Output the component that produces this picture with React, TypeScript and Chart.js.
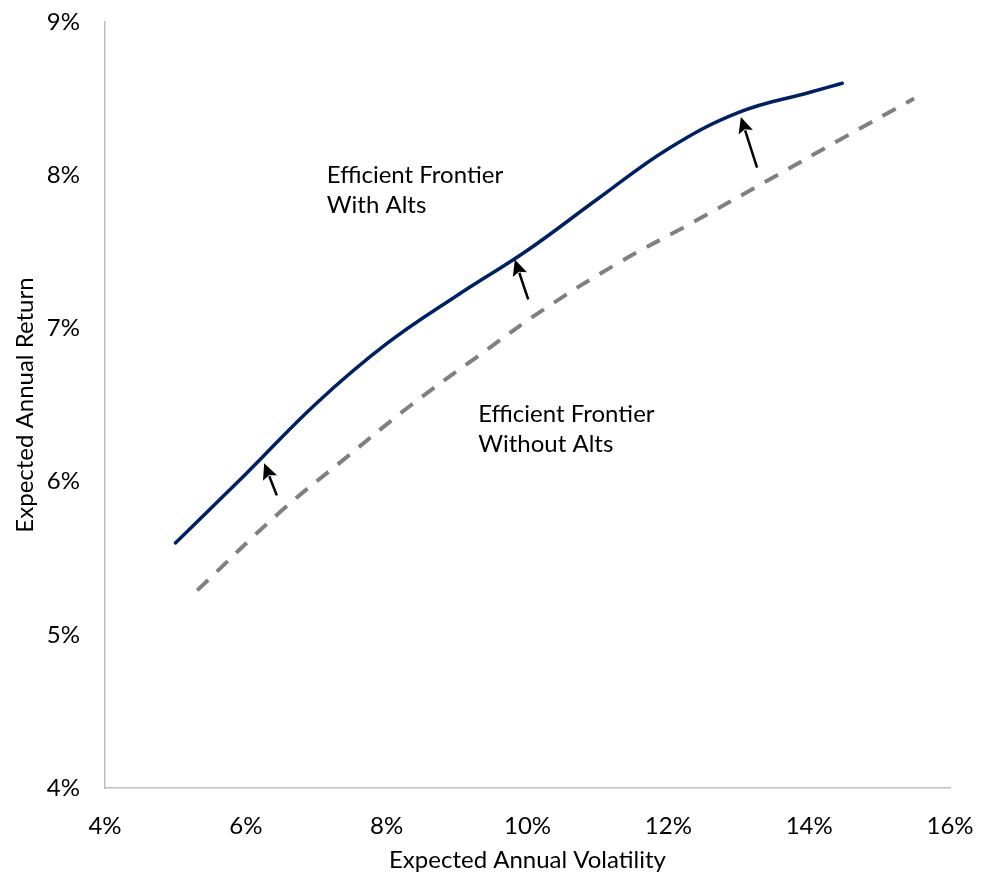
import React, { useEffect, useRef } from "react";
import { Chart, registerables } from "chart.js";
Chart.register(...registerables);

// Efficient frontier with alternatives (volatility %, return %)
const withAltsVol = [5.0, 6.0, 7.0, 8.0, 9.0, 10.0, 11.0, 12.0, 13.0, 14.0, 14.47];
const withAltsRet = [5.6, 6.05, 6.51, 6.9, 7.215, 7.51, 7.846, 8.173, 8.41, 8.54, 8.6];

// Efficient frontier without alternatives
const withoutAltsVol = [5.31, 6.47, 7.38, 8.32, 9.27, 10.25, 11.3, 12.34, 13.39, 14.43, 15.49];
const withoutAltsRet = [5.29, 5.795, 6.14, 6.49, 6.81, 7.13, 7.43, 7.69, 7.96, 8.23, 8.5];

// Arrows (from -> to)
const arrowFromVol = [6.44, 10.01, 13.26];
const arrowFromRet = [5.91, 7.19, 8.05];
const arrowToVol = [6.26, 9.82, 13.03];
const arrowToRet = [6.12, 7.45, 8.38];

// Text labels: anchor of first line baseline (left aligned)
const labelVol = [7.15, 9.3];
const labelRet = [7.95, 6.39];
const labelLines = [
  ["Efficient Frontier", "With Alts"],
  ["Efficient Frontier", "Without Alts"],
];

const xTicks = [4, 6, 8, 10, 12, 14, 16];
const yTicks = [4, 5, 6, 7, 8, 9];
const xTitle = "Expected Annual Volatility";
const yTitle = "Expected Annual Return";

const FONT = "Lato, 'Open Sans', sans-serif";
const FS = 24;

export default function App() {
  const ref = useRef<HTMLCanvasElement>(null);
  useEffect(() => {
    const canvas = ref.current!;
    const annotPlugin = {
      id: "annot",
      afterDatasetsDraw(chart: any) {
        const { ctx } = chart;
        const x = chart.scales.x;
        const y = chart.scales.y;
        ctx.save();
        for (let i = 0; i < arrowFromVol.length; i++) {
          const x0 = x.getPixelForValue(arrowFromVol[i]);
          const y0 = y.getPixelForValue(arrowFromRet[i]);
          const x1 = x.getPixelForValue(arrowToVol[i]);
          const y1 = y.getPixelForValue(arrowToRet[i]);
          const ang = Math.atan2(y1 - y0, x1 - x0);
          const headLen = 16;
          const headW = 7.5;
          const bx = x1 - headLen * Math.cos(ang);
          const by = y1 - headLen * Math.sin(ang);
          ctx.strokeStyle = "#000";
          ctx.lineWidth = 2.5;
          ctx.beginPath();
          ctx.moveTo(x0, y0);
          ctx.lineTo(bx + 2 * Math.cos(ang), by + 2 * Math.sin(ang));
          ctx.stroke();
          ctx.fillStyle = "#000";
          ctx.beginPath();
          ctx.moveTo(x1, y1);
          ctx.lineTo(bx + headW * Math.sin(ang), by - headW * Math.cos(ang));
          ctx.lineTo(bx + 3 * Math.cos(ang), by + 3 * Math.sin(ang));
          ctx.lineTo(bx - headW * Math.sin(ang), by + headW * Math.cos(ang));
          ctx.closePath();
          ctx.fill();
        }
        ctx.font = `${FS}px ${FONT}`;
        ctx.fillStyle = "#000";
        ctx.textAlign = "left";
        ctx.textBaseline = "alphabetic";
        for (let i = 0; i < labelLines.length; i++) {
          const px = x.getPixelForValue(labelVol[i]);
          const py = y.getPixelForValue(labelRet[i]);
          labelLines[i].forEach((t, j) => ctx.fillText(t, px, py + j * 30));
        }
        ctx.restore();
      },
    };

    const chart = new Chart(canvas, {
      type: "line",
      data: {
        datasets: [
          {
            label: "With Alts",
            data: withAltsVol.map((v, i) => ({ x: v, y: withAltsRet[i] })),
            borderColor: "#002060",
            borderWidth: 3.5,
            pointRadius: 0,
            tension: 0.4,
            borderCapStyle: "round",
            fill: false,
          },
          {
            label: "Without Alts",
            data: withoutAltsVol.map((v, i) => ({ x: v, y: withoutAltsRet[i] })),
            borderColor: "#808080",
            borderWidth: 4,
            borderDash: [15, 12],
            pointRadius: 0,
            tension: 0.4,
            fill: false,
          },
        ],
      },
      options: {
        animation: false,
        responsive: false,
        maintainAspectRatio: false,
        layout: { padding: { left: 0, top: 22, right: 32, bottom: 0 } },
        plugins: { legend: { display: false }, tooltip: { enabled: false } },
        scales: {
          x: {
            type: "linear",
            min: 4,
            max: 16,
            afterBuildTicks: (s: any) => {
              s.ticks = xTicks.map((v) => ({ value: v }));
            },
            ticks: {
              callback: (v: any) => v + "%",
              padding: 0,
              color: "#000",
              maxRotation: 0,
              font: { family: FONT, size: FS },
            },
            grid: { display: false, drawTicks: true, tickLength: 24 },
            border: { display: true, color: "#bfbfbf", width: 1.5 },
            title: {
              display: true,
              text: xTitle,
              color: "#000",
              font: { family: FONT, size: FS },
              padding: { top: 0, bottom: 2 },
            },
            afterFit: (s: any) => {
              s.height = 89;
            },
          },
          y: {
            type: "linear",
            min: 4,
            max: 9,
            afterBuildTicks: (s: any) => {
              s.ticks = yTicks.map((v) => ({ value: v }));
            },
            ticks: {
              callback: (v: any) => v + "%",
              padding: 0,
              color: "#000",
              font: { family: FONT, size: FS },
            },
            grid: { display: false, drawTicks: true, tickLength: 25 },
            border: { display: true, color: "#bfbfbf", width: 1.5 },
            title: {
              display: true,
              text: yTitle,
              color: "#000",
              font: { family: FONT, size: FS },
              padding: { top: 11, bottom: 0 },
            },
            afterFit: (s: any) => {
              s.width = 105;
            },
          },
        },
      },
      plugins: [annotPlugin],
    } as any);
    return () => chart.destroy();
  }, []);
  return (
    <div style={{ position: "fixed", left: 0, top: 0, width: 982, height: 877, background: "#fff" }}>
      <canvas ref={ref} width={982} height={877} style={{ display: "block", width: 982, height: 877 }} />
    </div>
  );
}
